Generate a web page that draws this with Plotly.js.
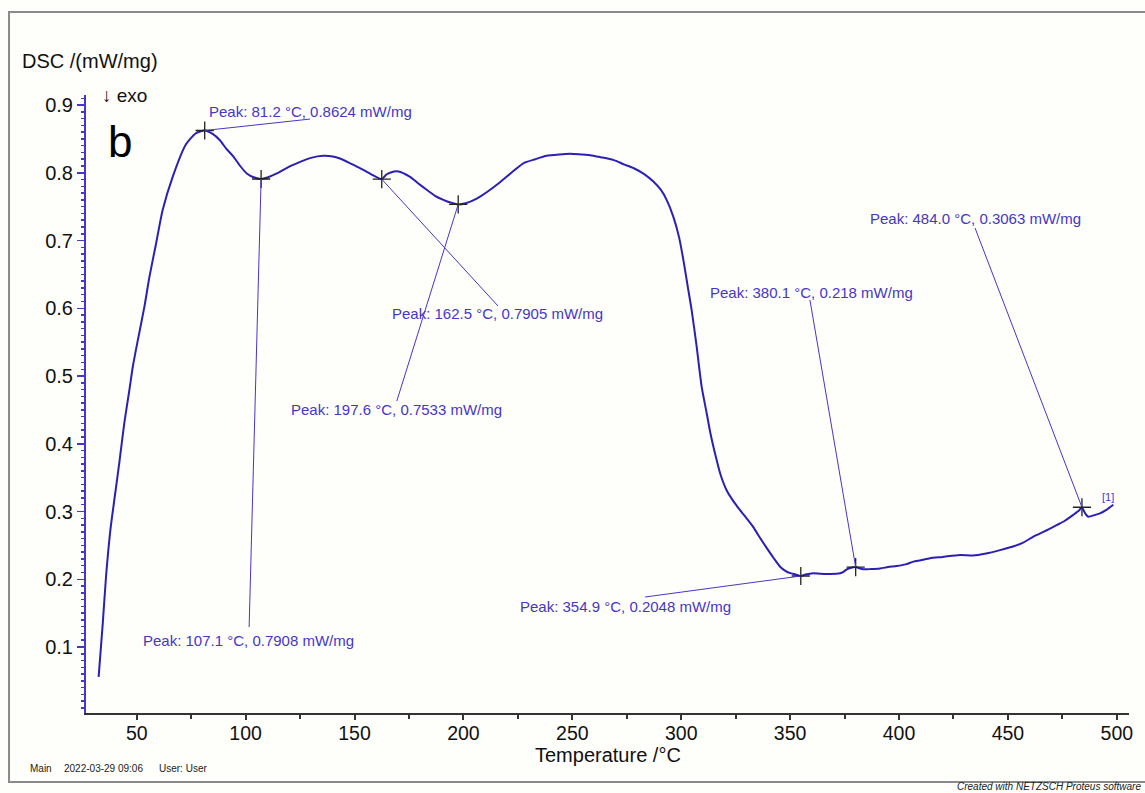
<!DOCTYPE html>
<html>
<head>
<meta charset="utf-8">
<script src="https://cdn.plot.ly/plotly-3.0.1.min.js"></script>
<style>
  html, body { margin: 0; padding: 0; background: #fefefa; }
  #chart { width: 1145px; height: 793px; }
</style>
</head>
<body>
<div id="chart"></div>
<script>
// Temperature (°C) of the DSC curve
const temperature = [
  32.5, 34.4, 35.9, 37.9, 39.7, 42.0, 44.3, 46.6, 48.2, 50.5, 53.5, 55.8, 58.9, 61.9, 66.5, 72.6, 77, 81.2,
  85, 88.2, 91, 94.4, 97.5, 100.5, 104, 107.1, 110, 114.3, 120, 125, 130, 135.7, 140, 143.3, 148, 152.5,
  157.5, 162.5, 164.5, 166.3, 170.1, 175.5, 179, 183.1, 187, 190.8, 194, 197.6, 201, 206.1, 211, 216.8,
  222, 227.5, 233, 238.2, 244, 248.9, 254, 258.1, 263, 268.8, 274, 278, 283, 287.2, 290.6, 293.3, 296.4,
  299, 301, 303, 304.8, 307.1, 309.4, 311.7, 313.5, 315.5, 318, 320.9, 324, 327, 330, 333.1, 336, 339.3,
  342.5, 345.4, 348, 350, 352.5, 354.9, 357, 360.7, 364, 368.3, 372.9, 374.5, 376, 378, 380.1, 382, 383.6,
  387, 391.3, 395, 398.9, 403, 406.6, 410, 414.2, 420, 428, 434, 440, 446.4, 452, 457, 461.7, 467, 472.4,
  476, 480, 482.5, 484.0, 485, 486, 487, 490, 492.3, 495, 498.4
];
// DSC signal (mW/mg)
const dsc = [
  0.056, 0.135, 0.204, 0.273, 0.317, 0.372, 0.431, 0.479, 0.514, 0.553, 0.602, 0.646, 0.696, 0.745, 0.794, 0.842, 0.858, 0.8624,
  0.857, 0.848, 0.836, 0.824, 0.810, 0.799, 0.793, 0.7908, 0.793, 0.799, 0.809, 0.816, 0.822, 0.825, 0.824, 0.821, 0.814, 0.807,
  0.798, 0.7905, 0.797, 0.800, 0.802, 0.794, 0.785, 0.775, 0.766, 0.760, 0.756, 0.7533, 0.755, 0.762, 0.772, 0.786,
  0.800, 0.814, 0.820, 0.825, 0.827, 0.828, 0.827, 0.826, 0.823, 0.819, 0.812, 0.807, 0.798, 0.787, 0.775, 0.760, 0.735,
  0.705, 0.671, 0.632, 0.597, 0.543, 0.484, 0.445, 0.414, 0.386, 0.355, 0.331, 0.315, 0.302, 0.290, 0.277, 0.262, 0.246,
  0.231, 0.2185, 0.212, 0.209, 0.207, 0.2048, 0.207, 0.209, 0.208, 0.2078, 0.2088, 0.211, 0.2147, 0.217, 0.218, 0.216, 0.2147,
  0.215, 0.216, 0.218, 0.2196, 0.222, 0.226, 0.228, 0.231, 0.233, 0.236, 0.235, 0.238, 0.243, 0.248, 0.254, 0.263, 0.271, 0.280,
  0.286, 0.295, 0.301, 0.3063, 0.300, 0.2948, 0.2923, 0.295, 0.2973, 0.302, 0.310
];
// Marked peaks
const peakTemp = [81.2, 107.1, 162.5, 197.6, 354.9, 380.1, 484.0];
const peakDsc = [0.8624, 0.7908, 0.7905, 0.7533, 0.2048, 0.218, 0.3063];
const peakLabels = [
  "Peak: 81.2 °C, 0.8624 mW/mg",
  "Peak: 107.1 °C, 0.7908 mW/mg",
  "Peak: 162.5 °C, 0.7905 mW/mg",
  "Peak: 197.6 °C, 0.7533 mW/mg",
  "Peak: 354.9 °C, 0.2048 mW/mg",
  "Peak: 380.1 °C, 0.218 mW/mg",
  "Peak: 484.0 °C, 0.3063 mW/mg"
];

// label placement (text left/middle) and leader line end, in axis units
const labelPos = [
  {tx: 82.1, ty: 0.890, lx: 129.6, ly: 0.8793},
  {tx: 52.0, ty: 0.1103, lx: 101.6, ly: 0.1295},
  {tx: 166.3, ty: 0.593, lx: 215.9, ly: 0.6033},
  {tx: 120.0, ty: 0.4513, lx: 169.4, ly: 0.463},
  {tx: 225.1, ty: 0.1605, lx: 283.4, ly: 0.1738},
  {tx: 312.3, ty: 0.624, lx: 359.1, ly: 0.6122},
  {tx: 385.8, ty: 0.7332, lx: 434.9, ly: 0.7185}
];

const curveColor = '#2c1fb4';
const labelColor = '#4636c8';
const font = '"Liberation Sans", Arial, sans-serif';

const traces = [
  {
    x: temperature, y: dsc, type: 'scatter', mode: 'lines',
    line: {color: curveColor, width: 2, shape: 'spline', smoothing: 0.6}, hoverinfo: 'skip'
  },
  {
    x: peakTemp, y: peakDsc, type: 'scatter', mode: 'markers',
    marker: {symbol: 'cross-thin', size: 13, line: {color: '#222', width: 1.3}}, hoverinfo: 'skip'
  }
];

const shapes = [
  // outer frame
  {type: 'rect', xref: 'paper', yref: 'paper', x0: -0.0738, x1: 1.03, y0: -0.1117, y1: 1.1343,
   line: {color: '#8a8a8a', width: 2}, fillcolor: 'rgba(0,0,0,0)', layer: 'below'}
];
const annotations = [];
peakTemp.forEach((t, i) => {
  const p = labelPos[i];
  shapes.push({type: 'line', xref: 'x', yref: 'y', x0: t, y0: peakDsc[i], x1: p.lx, y1: p.ly,
    line: {color: labelColor, width: 1}});
  annotations.push({xref: 'x', yref: 'y', x: p.tx, y: p.ty, text: peakLabels[i], showarrow: false,
    xanchor: 'left', yanchor: 'middle', font: {family: font, size: 15, color: labelColor}});
});
annotations.push(
  {xref: 'x', yref: 'y', x: 495.9, y: 0.3214, text: '[1]', showarrow: false, xanchor: 'center', yanchor: 'middle',
   font: {family: font, size: 11, color: labelColor}},
  {xref: 'paper', yref: 'paper', x: -0.0633, y: 1.055, text: 'DSC /(mW/mg)', showarrow: false,
   xanchor: 'left', yanchor: 'middle', font: {family: font, size: 20, color: '#111'}},
  {xref: 'paper', yref: 'paper', x: 0.0134, y: 1.0, text: '↓ exo', showarrow: false,
   xanchor: 'left', yanchor: 'middle', font: {family: font, size: 19, color: '#111'}},
  {xref: 'paper', yref: 'paper', x: 0.0192, y: 0.924, text: 'b', showarrow: false,
   xanchor: 'left', yanchor: 'middle', font: {family: font, size: 44, color: '#000'}},
  {xref: 'paper', yref: 'paper', x: 0.5, y: -0.068, text: 'Temperature /°C', showarrow: false,
   xanchor: 'center', yanchor: 'middle', font: {family: font, size: 20, color: '#111'}},
  {xref: 'paper', yref: 'paper', x: -0.0556, y: -0.089, text: 'Main', showarrow: false,
   xanchor: 'left', yanchor: 'middle', font: {family: font, size: 10, color: '#222'}},
  {xref: 'paper', yref: 'paper', x: -0.023, y: -0.089, text: '2022-03-29 09:06', showarrow: false,
   xanchor: 'left', yanchor: 'middle', font: {family: font, size: 10, color: '#222'}},
  {xref: 'paper', yref: 'paper', x: 0.068, y: -0.089, text: 'User: User', showarrow: false,
   xanchor: 'left', yanchor: 'middle', font: {family: font, size: 10, color: '#222'}},
  {xref: 'paper', yref: 'paper', x: 1.0135, y: -0.1197, text: '<i>Created with NETZSCH Proteus software</i>', showarrow: false,
   xanchor: 'right', yanchor: 'middle', font: {family: font, size: 10, color: '#222'}}
);

const layout = {
  width: 1145, height: 793,
  margin: {l: 86, r: 16, t: 95, b: 80},
  paper_bgcolor: '#fefefa', plot_bgcolor: '#fefefa',
  showlegend: false,
  xaxis: {
    range: [26.7, 505.6], dtick: 50, tick0: 0, showgrid: false, zeroline: false,
    showline: true, linecolor: '#333', linewidth: 2, ticks: 'outside', ticklen: 5, tickcolor: '#333', tickwidth: 2,
    ticklabelstandoff: -3,
    minor: {dtick: 25, tick0: 0, ticks: 'outside', ticklen: 4, tickcolor: '#333', showgrid: false},
    tickfont: {family: font, size: 19.5, color: '#111'}
  },
  yaxis: {
    range: [0.0026, 0.9148], dtick: 0.1, tick0: 0, tickformat: '.1f', showgrid: false, zeroline: false,
    showline: true, linecolor: '#4536d2', linewidth: 2, ticks: 'outside', ticklen: 7, tickcolor: '#4536d2', tickwidth: 1.5,
    minor: {dtick: 0.01, tick0: 0, ticks: 'outside', ticklen: 3, tickcolor: '#4536d2', showgrid: false},
    tickfont: {family: font, size: 20, color: '#111'}
  },
  shapes: shapes,
  annotations: annotations
};

Plotly.newPlot('chart', traces, layout, {staticPlot: true, displayModeBar: false});
</script>
</body>
</html>
